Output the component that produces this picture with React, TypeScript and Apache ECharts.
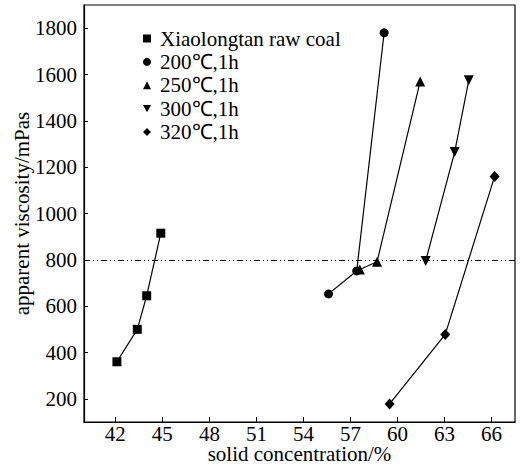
import React, { useEffect, useRef } from "react";
import * as echarts from "echarts";

const rawX = [42.1, 43.4, 44.0, 44.9];
const rawY = [360, 500, 645, 915];
const t200X = [55.6, 57.4, 59.15];
const t200Y = [653, 752, 1780];
const t250X = [57.6, 58.7, 61.45];
const t250Y = [758, 792, 1570];
const t300X = [61.8, 63.65, 64.55];
const t300Y = [795, 1265, 1575];
const t320X = [59.5, 63.05, 66.2];
const t320Y = [178, 478, 1160];

const xTicks = [42, 45, 48, 51, 54, 57, 60, 63, 66];
const yTicks = [200, 400, 600, 800, 1000, 1200, 1400, 1600, 1800];
const refValue = 800;

const names = [
  "Xiaolongtan raw coal",
  "200\u2103,1h",
  "250\u2103,1h",
  "300\u2103,1h",
  "320\u2103,1h",
];

const FONT = "'Liberation Serif', 'Times New Roman', serif";
const invTri = "path://M0,0 L10,0 L5,9 Z";

function pairs(xs: number[], ys: number[]) {
  return xs.map((x, i) => [x, ys[i]]);
}

export default function App() {
  const ref = useRef<HTMLDivElement>(null);
  useEffect(() => {
    if (!ref.current) return;
    const chart = echarts.init(ref.current, null, { renderer: "svg" });
    const lineStyle = { color: "#000", width: 1.2 };
    const mk = (
      name: string,
      xs: number[],
      ys: number[],
      symbol: string,
      size: number | number[],
      rotate = 0,
      extra: any = {}
    ) => ({
      name,
      type: "line",
      data: pairs(xs, ys),
      symbol,
      symbolSize: size,
      symbolRotate: rotate,
      showAllSymbol: true,
      lineStyle,
      itemStyle: { color: "#000" },
      ...extra,
    });
    chart.setOption({
      animation: false,
      backgroundColor: "#fff",
      textStyle: { fontFamily: FONT, color: "#000" },
      grid: {
        left: 84,
        right: 11,
        top: 5,
        bottom: 49,
        outerBoundsMode: "none",
        containLabel: false,
        show: true,
        borderColor: "#000",
        borderWidth: 1.2,
      },
      legend: {
        orient: "vertical",
        left: 138,
        top: 23,
        itemWidth: 8,
        itemHeight: 8,
        itemGap: 2.4,
        textStyle: {
          fontFamily: FONT,
          fontSize: 21,
          color: "#000",
          lineHeight: 20,
          padding: [0, 0, 0, 4],
        },
        data: [
          { name: names[0], icon: "rect" },
          { name: names[1], icon: "circle" },
          { name: names[2], icon: "triangle" },
          { name: names[3], icon: invTri },
          { name: names[4], icon: "diamond" },
        ],
      },
      xAxis: {
        type: "value",
        min: 40,
        max: 67.5,
        name: "solid concentration/%",
        nameLocation: "middle",
        nameGap: 22,
        nameMoveOverlap: false,
        nameTextStyle: {
          fontFamily: FONT,
          fontSize: 21,
          lineHeight: 20,
          color: "#000",
          verticalAlign: "top",
        },
        axisLine: { show: true, lineStyle: { color: "#000", width: 1.2 } },
        axisTick: { inside: true, length: 5, customValues: xTicks, lineStyle: { color: "#000" } },
        axisLabel: {
          customValues: xTicks,
          formatter: (v: number) => String(v),
          fontFamily: FONT,
          fontSize: 21,
          lineHeight: 18,
          color: "#000",
          margin: 3,
        },
        splitLine: { show: false },
      },
      yAxis: {
        type: "value",
        min: 100,
        max: 1900,
        name: "apparent viscosity/mPas",
        nameLocation: "middle",
        nameGap: 52,
        nameMoveOverlap: false,
        nameTextStyle: { fontFamily: FONT, fontSize: 21, color: "#000" },
        axisLine: { show: true, lineStyle: { color: "#000", width: 1.2 } },
        axisTick: { inside: true, length: 4, customValues: yTicks, lineStyle: { color: "#000" } },
        axisLabel: {
          customValues: yTicks,
          formatter: (v: number) => String(v),
          fontFamily: FONT,
          fontSize: 21,
          color: "#000",
          margin: 7,
        },
        splitLine: { show: false },
      },
      series: [
        mk(names[0], rawX, rawY, "rect", 9, 0, {
          markLine: {
            silent: true,
            symbol: "none",
            label: { show: false },
            lineStyle: { color: "#000", width: 1.1, type: [6, 3, 1, 3, 1, 3] },
            data: [{ yAxis: refValue }],
          },
        }),
        mk(names[1], t200X, t200Y, "circle", 9),
        mk(names[2], t250X, t250Y, "triangle", 10),
        mk(names[3], t300X, t300Y, "triangle", 10, 180),
        mk(names[4], t320X, t320Y, "diamond", [10, 11]),
      ],
    });
    return () => chart.dispose();
  }, []);
  return (
    <div
      ref={ref}
      style={{ position: "fixed", left: 0, top: 0, width: 526, height: 471, background: "#fff" }}
    />
  );
}
